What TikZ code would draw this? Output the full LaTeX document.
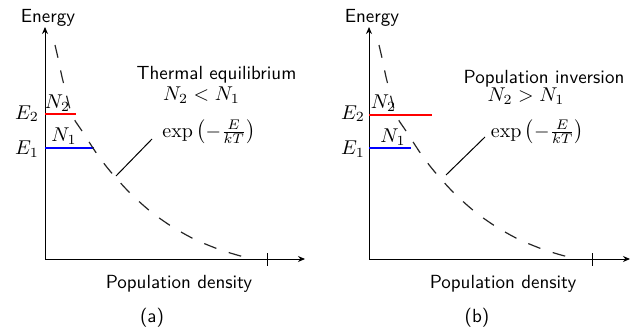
\documentclass[tikz,border=0pt]{standalone}
\usetikzlibrary{arrows.meta}
\tikzset{
  axis/.style={line width=0.5pt, -{Stealth[length=3.5pt,width=3pt]}},
  tickmark/.style={line width=0.5pt},
  curvestyle/.style={line width=0.6pt, dash pattern=on 6.5pt off 6.5pt, black!85},
  lvl/.style={line width=1.4pt},
  pinline/.style={line width=0.5pt},
  sans/.style={font=\fontsize{9.5}{11}\selectfont\sffamily, inner sep=0pt, anchor=base},
  mth/.style={font=\fontsize{10}{12}\selectfont, inner sep=0pt, anchor=base},
}
\begin{document}
\begin{tikzpicture}[x=0.5pt,y=-0.5pt]
\useasboundingbox (0,0) rectangle (637,332);
% ---------------- panel (a)
\coordinate (oa) at (45,259);
\coordinate (ya) at (45,27);
\coordinate (xa) at (305,259);
\draw[axis] (oa) -- (ya);
\draw[axis] (oa) -- (xa);
\coordinate (ta1) at (267,253);
\coordinate (ta2) at (267,266);
\draw[tickmark] (ta1) -- (ta2);
\node[sans] (ena) at (48,22) {Energy};
\coordinate (r1a) at (45,114); \coordinate (r2a) at (76,114);
\coordinate (b1a) at (45,148); \coordinate (b2a) at (94,148);
\draw[lvl, red] (r1a) -- (r2a);
\draw[lvl, blue] (b1a) -- (b2a);
\draw[curvestyle] plot[smooth, tension=0.5] coordinates {(55,45) (58,58) (62,77) (64,85) (70,109) (74,119) (82,131) (97,154) (110,171) (129,192) (150,211) (171,226) (194,239) (218,249) (237,255) (252,259)};
\node[mth] (e2a) at (27,119) {$E_2$};
\node[mth] (e1a) at (27,154) {$E_1$};
\node[mth] (n2a) at (57.5,108) {$N_2$};
\node[mth] (n1a) at (64,141) {$N_1$};
\node[sans] (tea) at (216.5,79) {Thermal equilibrium};
\node[mth] (rela) at (201.5,100) {$N_2 < N_1$};
\node[mth] (expa) at (209,137) {$\exp\left(-\frac{E}{kT}\right)$};
\coordinate (pa1) at (116,176);
\coordinate (pa2) at (152,139);
\draw[pinline] (pa1) -- (pa2);
\node[sans] (pda) at (179,288) {Population density};
\node[sans] (capa) at (152,322) {(a)};
% ---------------- panel (b)
\coordinate (ob) at (369,259);
\coordinate (yb) at (369,27);
\coordinate (xb) at (630,259);
\draw[axis] (ob) -- (yb);
\draw[axis] (ob) -- (xb);
\coordinate (tb1) at (592,253);
\coordinate (tb2) at (592,266);
\draw[tickmark] (tb1) -- (tb2);
\node[sans] (enb) at (372,22) {Energy};
\coordinate (r1b) at (369,115); \coordinate (r2b) at (432,115);
\coordinate (b1b) at (369,148); \coordinate (b2b) at (411,148);
\draw[lvl, red] (r1b) -- (r2b);
\draw[lvl, blue] (b1b) -- (b2b);
\begin{scope}[xshift=162pt]
\draw[curvestyle] plot[smooth, tension=0.5] coordinates {(55,45) (58,58) (62,77) (64,85) (70,109) (74,119) (82,131) (97,154) (110,171) (129,192) (150,211) (171,226) (194,239) (218,249) (237,255) (253,259)};
\end{scope}
\node[mth] (e2b) at (353,119) {$E_2$};
\node[mth] (e1b) at (353,154) {$E_1$};
\node[mth] (n2b) at (383.5,108) {$N_2$};
\node[mth] (n1b) at (393,142) {$N_1$};
\node[sans] (pib) at (544,83) {Population inversion};
\node[mth] (relb) at (526,101) {$N_2 > N_1$};
\node[mth] (expb) at (537.5,137) {$\exp\left(-\frac{E}{kT}\right)$};
\coordinate (pb1) at (446,175);
\coordinate (pb2) at (485,137);
\draw[pinline] (pb1) -- (pb2);
\node[sans] (pdb) at (503,288) {Population density};
\node[sans] (capb) at (477,322) {(b)};
\end{tikzpicture}
\end{document}
